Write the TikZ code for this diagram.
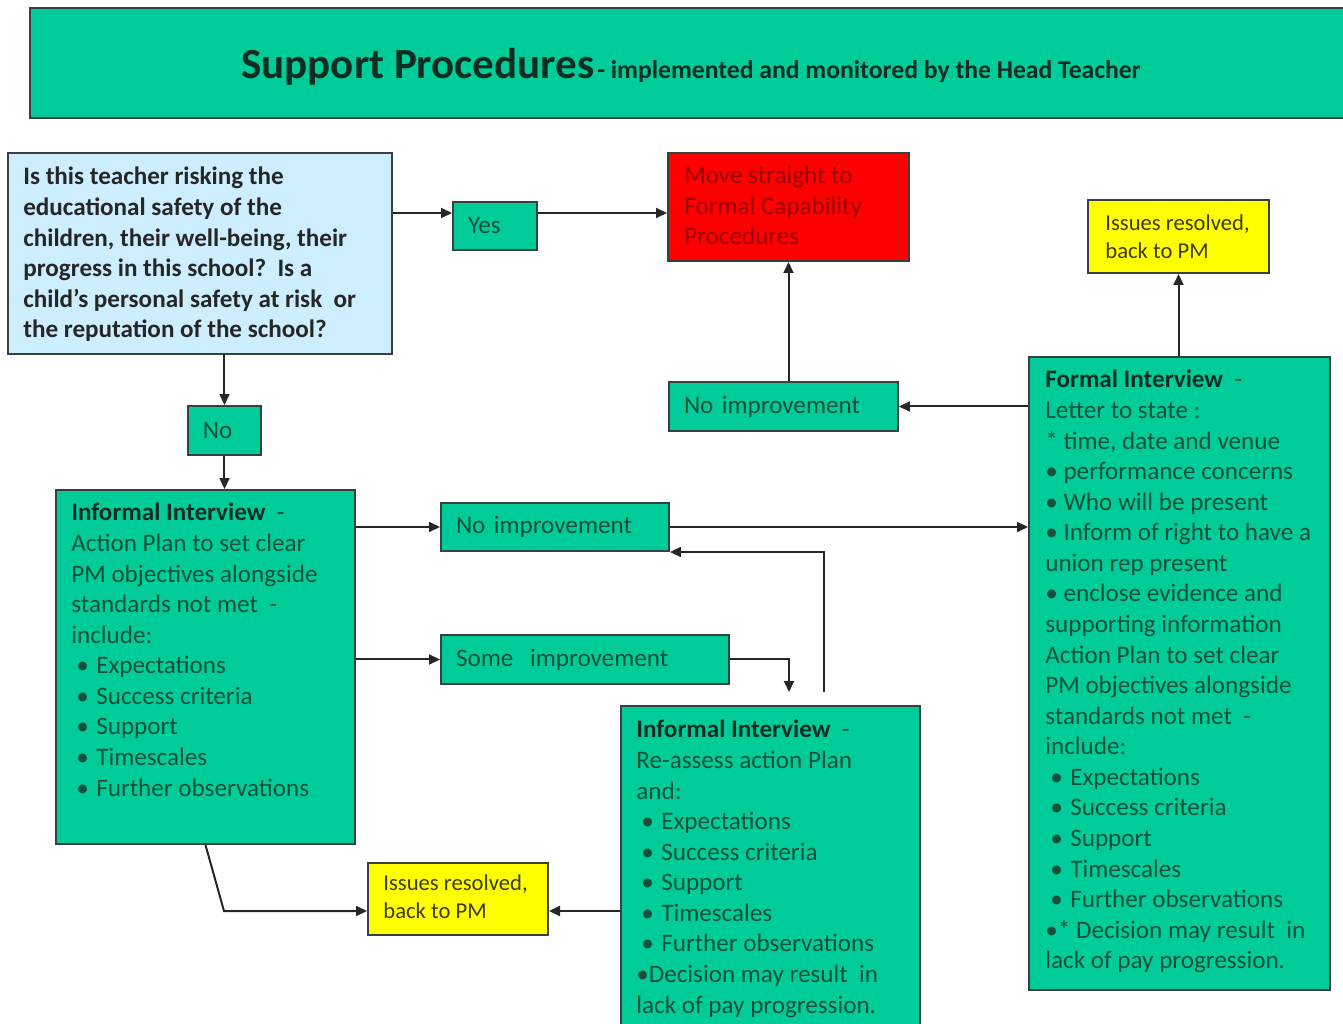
\documentclass[tikz,border=0pt]{standalone}
\usepackage{fontspec}
\setmainfont{Carlito}
\usetikzlibrary{fit,arrows.meta}
\definecolor{boxgreen}{RGB}{0,204,153}
\definecolor{qblue}{RGB}{204,238,255}
\definecolor{redbox}{RGB}{255,0,0}
\definecolor{issyellow}{RGB}{255,255,0}
\definecolor{edge}{RGB}{55,65,65}
\definecolor{gtext}{RGB}{20,80,60}
\definecolor{gdark}{RGB}{15,45,35}
\definecolor{rtext}{RGB}{150,0,0}
\definecolor{ytext}{RGB}{60,60,10}
\newcommand{\lst}[1]{\hspace*{0.1cm}\makebox[0.4cm][l]{\textbullet}#1}
\begin{document}
\begin{tikzpicture}[x=0.02cm, y=-0.02cm,
    frame/.style={draw=edge, line width=0.04cm, inner sep=0pt},
    gbox/.style={frame, fill=boxgreen},
    tag/.style={gbox, anchor=north west, align=left, inner xsep=0.3cm,
        font=\fontsize{14.3}{17.4}\selectfont, text=gtext},
    txt/.style={anchor=north west, inner sep=0pt, align=left,
        font=\fontsize{14.3}{17.4}\selectfont, text=gtext},
    arr/.style={-{Triangle[length=0.22cm,width=0.2cm]}, line width=0.04cm, draw=black!85}]
    \useasboundingbox (0,0) rectangle (1343,1024);

    % Header
    \node[gbox, fit={(30,8) (1352,118)}] (head) {};
    \node[anchor=base, text=gdark] (head-t) at (691,79)
    {{\fontsize{24.5}{28}\selectfont\bfseries Support Procedures}\,{\fontsize{14.6}{17}\selectfont\bfseries - implemented and monitored by the Head Teacher}};

    % Question
    \node[frame, fill=qblue, fit={(8,153) (392,354)}] (quest) {};
    \node[txt, text=black!85, font=\fontsize{14.3}{17.4}\selectfont\bfseries] (quest-t) at (23,167)
    {Is this teacher risking the\\
     educational safety of the\\
     children, their well-being, their\\
     progress in this school?\ \ Is a\\
     child’s personal safety at risk\ \ or\\
     the reputation of the school?};

    \node[tag, minimum height=0.96cm, text width=1.08cm] (yes) at (452,201) {Yes};
    \node[tag, minimum height=0.98cm, text width=0.86cm] (no) at (187,405) {No};

    % Red box
    \node[frame, fill=redbox, fit={(668,153) (909,261)}] (capab) {};
    \node[txt, text=rtext] (capab-t) at (684,166)
    {Move straight to\\ Formal Capability\\ Procedures};

    % Informal interview (left)
    \node[gbox, fit={(56,490) (355,844)}] (infA) {};
    \node[txt] (infA-t) at (71,503)
    {\textbf{\color{gdark}Informal Interview}\ \ -\\
     Action Plan to set clear\\
     PM objectives alongside\\
     standards not met\ \ -\\
     include:\\
     \lst{Expectations}\\
     \lst{Success criteria}\\
     \lst{Support}\\
     \lst{Timescales}\\
     \lst{Further observations}};

    \node[tag, minimum height=0.96cm, text width=3.96cm] (noimpA) at (440,502) {No improvement};
    \node[tag, minimum height=0.98cm, text width=5.16cm] (someimp) at (440,634) {Some\ \ improvement};
    \node[tag, minimum height=0.98cm, text width=3.98cm] (noimpB) at (668,381) {No improvement};

    % Informal interview (middle)
    \node[gbox, fit={(621,706) (920,1034)}] (infB) {};
    \node[txt] (infB-t) at (636,720)
    {\textbf{\color{gdark}Informal Interview}\ \ -\\
     Re-assess action Plan\\
     and:\\
     \lst{Expectations}\\
     \lst{Success criteria}\\
     \lst{Support}\\
     \lst{Timescales}\\
     \lst{Further observations}\\
     \textbullet Decision may result\ \ in\\
     lack of pay progression.};

    % Formal interview
    \node[gbox, fit={(1029,357) (1330,990)}] (formal) {};
    \node[txt] (formal-t) at (1045,370)
    {\textbf{\color{gdark}Formal Interview}\ \ -\\
     Letter to state :\\
     * time, date and venue\\
     \textbullet{} performance concerns\\
     \textbullet{} Who will be present\\
     \textbullet{} Inform of right to have a\\
     union rep present\\
     \textbullet{} enclose evidence and\\
     supporting information\\
     Action Plan to set clear\\
     PM objectives alongside\\
     standards not met\ \ -\\
     include:\\
     \lst{Expectations}\\
     \lst{Success criteria}\\
     \lst{Support}\\
     \lst{Timescales}\\
     \lst{Further observations}\\
     \textbullet* Decision may result\ \ in\\
     lack of pay progression.};

    % Yellow boxes
    \node[frame, fill=issyellow, fit={(1088,200) (1269,273)}] (issA) {};
    \node[txt, text=ytext, font=\fontsize{12.9}{15.9}\selectfont] (issA-t) at (1105,214)
    {Issues resolved,\\ back to PM};
    \node[frame, fill=issyellow, fit={(368,863) (548,935)}] (issB) {};
    \node[txt, text=ytext, font=\fontsize{12.9}{15.9}\selectfont] (issB-t) at (383,874)
    {Issues resolved,\\ back to PM};

    % Connectors
    \coordinate (yesrow) at (0,213);
    \draw[arr] (quest.east |- yesrow) -- (yes.west |- yesrow);
    \draw[arr] (yes.east |- yesrow) -- (capab.west |- yesrow);
    \draw[arr] (no.north |- quest.south) -- (no.north);
    \draw[arr] (no.south) -- (no.south |- infA.north);
    \draw[arr] (infA.east |- noimpA.west) -- (noimpA.west);
    \draw[arr] (infA.east |- someimp.west) -- (someimp.west);
    \coordinate (dropA) at (789,692);
    \draw[arr] (someimp.east) -| (dropA);
    \coordinate (riseA) at (824,692);
    \draw[arr] (riseA) |- (noimpA.south east);
    \draw[arr] (noimpA.east) -- (noimpA.east -| formal.west);
    \draw[arr] (noimpB.east -| formal.west) -- (noimpB.east);
    \draw[arr] (capab.south |- noimpB.north) -- (capab.south);
    \draw[arr] (issA.south |- formal.north) -- (issA.south);
    \coordinate (issrow) at (0,911);
    \coordinate (kink) at (224,911);
    \draw[arr] (infA.south) -- (kink) -- (issB.west |- issrow);
    \draw[arr] (infB.west |- issrow) -- (issB.east |- issrow);
\end{tikzpicture}
\end{document}
